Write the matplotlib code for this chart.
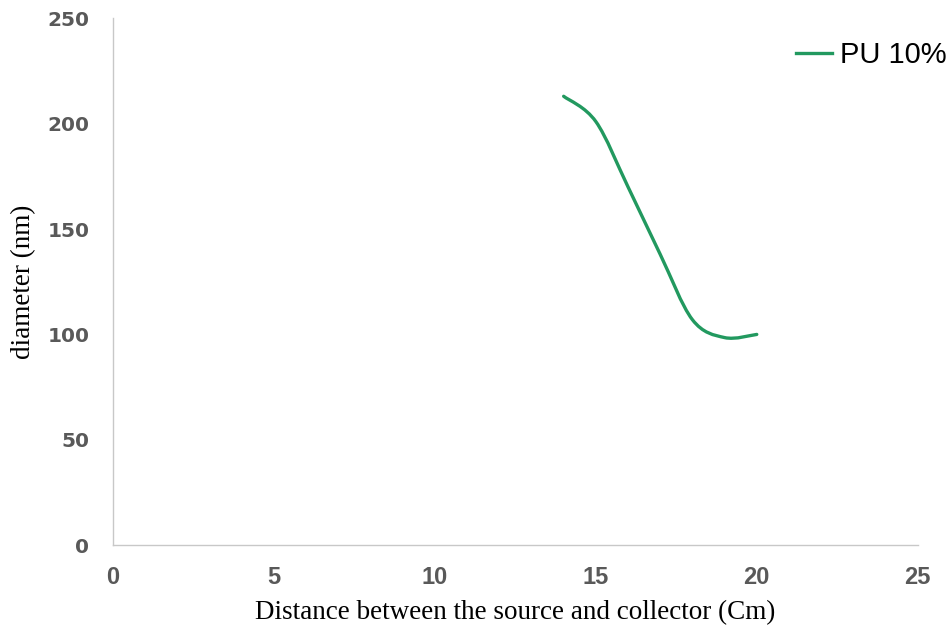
import numpy as np
import matplotlib
matplotlib.use("Agg")
import matplotlib.pyplot as plt
from matplotlib.path import Path
from matplotlib.patches import PathPatch
from matplotlib.lines import Line2D

# data
distance = [14, 15, 16, 17, 18, 19, 20]
diameter = [213, 201, 170, 138, 107, 98.5, 100]
series_name = "PU 10%"
x_ticks = [0, 5, 10, 15, 20, 25]
y_ticks = [0, 50, 100, 150, 200, 250]

line_color = "#22995f"
tick_color = "#595959"


def smooth_path(xs, ys):
    """Excel-like smoothed line: cubic Bezier segments through every point."""
    pts = np.column_stack([xs, ys]).astype(float)
    padded = np.vstack([pts[0], pts, pts[-1]])
    verts = [tuple(pts[0])]
    codes = [Path.MOVETO]
    for i in range(len(pts) - 1):
        p0, p1, p2, p3 = padded[i], padded[i + 1], padded[i + 2], padded[i + 3]
        c1 = p1 + (p2 - p0) / 6.0
        c2 = p2 - (p3 - p1) / 6.0
        verts += [tuple(c1), tuple(c2), tuple(p2)]
        codes += [Path.CURVE4] * 3
    return Path(verts, codes)


fig = plt.figure(figsize=(9.5, 6.31), dpi=100)
ax = fig.add_axes([0.119, 0.136, 0.847, 0.835])

ax.add_patch(PathPatch(smooth_path(distance, diameter), fill=False,
                       edgecolor=line_color, linewidth=2.4,
                       capstyle="round", joinstyle="round"))

ax.set_xlim(0, 25)
ax.set_ylim(0, 250)
ax.set_xticks(x_ticks)
ax.set_yticks(y_ticks)

# Remove top/right spines, keep light grey axes
for s in ["top", "right"]:
    ax.spines[s].set_visible(False)
for s in ["left", "bottom"]:
    ax.spines[s].set_color("#c8c8c8")
    ax.spines[s].set_linewidth(1.0)

ax.tick_params(axis="both", length=0, labelcolor=tick_color)
ax.tick_params(axis="y", pad=17, labelsize=14.5)
ax.tick_params(axis="x", pad=15, labelsize=17)
ax.set_yticklabels([str(v) for v in y_ticks], fontfamily="DejaVu Sans",
                   fontweight="bold")
ax.set_xticklabels([str(v) for v in x_ticks], fontfamily="Liberation Sans",
                   fontweight="bold")

ax.set_xlabel("Distance between the source and collector (Cm)",
              fontfamily="Liberation Serif", fontsize=19.5, labelpad=8)
ax.set_ylabel("diameter (nm)", fontfamily="Liberation Serif",
              fontsize=19.5, labelpad=8)

handle = Line2D([], [], color=line_color, linewidth=2.4)
fig.legend([handle], [series_name], loc="center left",
           bbox_to_anchor=(0.81, 0.913), frameon=False,
           handlelength=1.25, handletextpad=0.28,
           prop={"family": "Liberation Sans", "size": 21})

fig.savefig("out.png", dpi=100)
